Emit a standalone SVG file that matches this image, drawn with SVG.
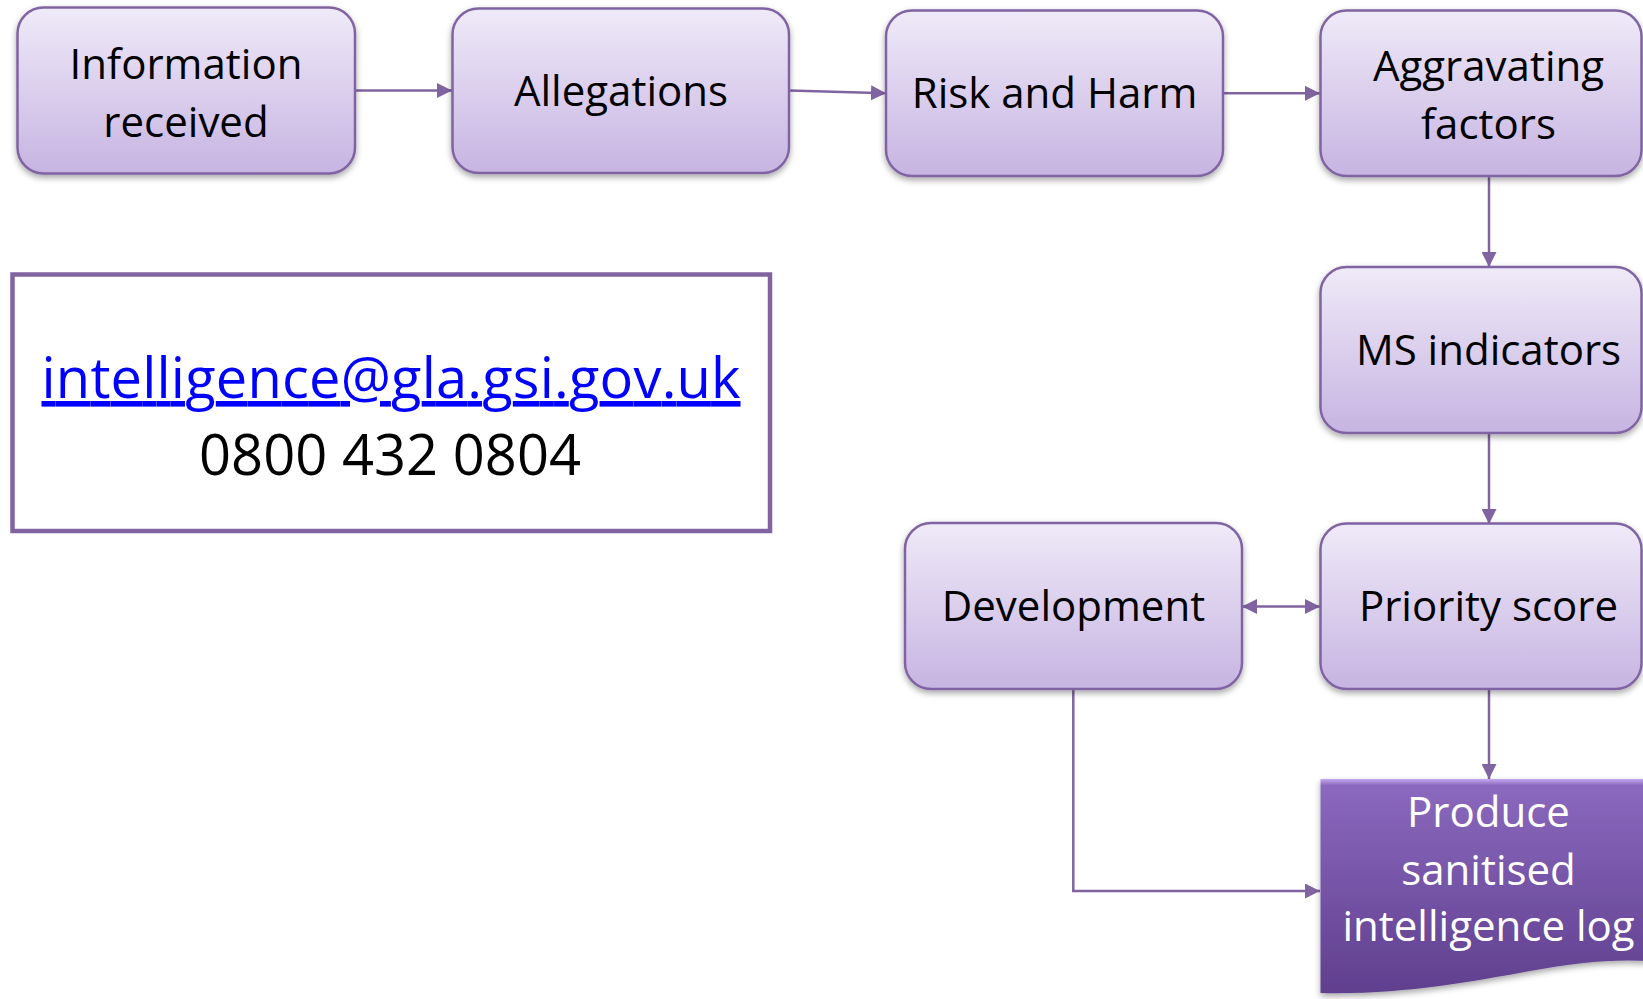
<svg xmlns="http://www.w3.org/2000/svg" width="1643" height="999" viewBox="0 0 1643 999">
<style>
.box{fill:url(#lg);stroke:#8064A2;stroke-width:2.5;filter:url(#sh)}
.t{font-family:"Open Sans","Noto Sans",sans-serif;font-size:42px;fill:#000;text-anchor:middle}
.tw{font-family:"Open Sans","Noto Sans",sans-serif;font-size:42px;fill:#fff;text-anchor:middle}
.c{fill:none;stroke:#8064A2;stroke-width:2.5}
</style>
<defs>
<linearGradient id="lg" x1="0" y1="0" x2="0" y2="1">
<stop offset="0" stop-color="#EFEAF8"/>
<stop offset="1" stop-color="#C7B4E2"/>
</linearGradient>
<linearGradient id="dg" x1="0" y1="0" x2="0" y2="1">
<stop offset="0" stop-color="#C4A8EE"/>
<stop offset="0.03" stop-color="#8A69BE"/>
<stop offset="1" stop-color="#5F3F8E"/>
</linearGradient>
<filter id="sh" x="-10%" y="-10%" width="120%" height="130%">
<feDropShadow dx="0" dy="3" stdDeviation="3" flood-color="#000" flood-opacity="0.35"/>
</filter>
<marker id="ah" viewBox="0 0 10 10" refX="10" refY="5" markerWidth="6" markerHeight="6" markerUnits="strokeWidth" orient="auto-start-reverse">
<path d="M0,0 L10,5 L0,10 Z" fill="#8064A2"/>
</marker>
</defs>
<g id="connectors">
<line class="c" x1="355" y1="90.5" x2="452" y2="90.5" marker-end="url(#ah)"/>
<line class="c" x1="789" y1="90.5" x2="886" y2="93.3" marker-end="url(#ah)"/>
<line class="c" x1="1223" y1="93.3" x2="1320" y2="93.3" marker-end="url(#ah)"/>
<line class="c" x1="1489" y1="176" x2="1489" y2="267" marker-end="url(#ah)"/>
<line class="c" x1="1489" y1="433" x2="1489" y2="524" marker-end="url(#ah)"/>
<line class="c" x1="1242" y1="606.5" x2="1320" y2="606.5" marker-start="url(#ah)" marker-end="url(#ah)"/>
<line class="c" x1="1489" y1="689" x2="1489" y2="779" marker-end="url(#ah)"/>
<polyline class="c" points="1073.3,689 1073.3,891 1320,891" marker-end="url(#ah)"/>
</g>
<g id="info">
<rect class="box" x="17.5" y="7.5" width="337.5" height="166" rx="26"/>
<text class="t" x="186" y="79">Information</text>
<text class="t" x="186" y="137">received</text>
</g>
<g id="allegations">
<rect class="box" x="452.5" y="8.5" width="336.5" height="164.5" rx="26"/>
<text class="t" x="621" y="106">Allegations</text>
</g>
<g id="risk">
<rect class="box" x="886" y="10.5" width="337" height="165.5" rx="26"/>
<text class="t" x="1054.5" y="108">Risk and Harm</text>
</g>
<g id="aggravating">
<rect class="box" x="1320.5" y="10.5" width="321" height="165.5" rx="26"/>
<text class="t" x="1488.5" y="81">Aggravating</text>
<text class="t" x="1488.5" y="139">factors</text>
</g>
<g id="ms">
<rect class="box" x="1320.5" y="267" width="321" height="166" rx="26"/>
<text class="t" x="1488.5" y="365">MS indicators</text>
</g>
<g id="priority">
<rect class="box" x="1320.5" y="523.5" width="321" height="165.5" rx="26"/>
<text class="t" x="1488.5" y="621">Priority score</text>
</g>
<g id="development">
<rect class="box" x="905" y="523" width="337" height="166" rx="26"/>
<text class="t" x="1073.5" y="621">Development</text>
</g>
<g id="produce">
<path d="M1320.5,779 H1660 V962 C1620,958 1580,962 1530,971 C1470,982 1400,995 1320.5,993 Z" fill="url(#dg)" filter="url(#sh)"/>
<text class="tw" x="1488.5" y="827">Produce</text>
<text class="tw" x="1488.5" y="885">sanitised</text>
<text class="tw" x="1488.5" y="941">intelligence log</text>
</g>
<g id="contact">
<rect x="12.5" y="274.5" width="757.5" height="256.5" fill="#fff" stroke="#8064A2" stroke-width="4.5"/>
<text x="391" y="398" font-family="'Open Sans','Noto Sans',sans-serif" font-size="56" fill="#0000FF" text-anchor="middle" text-decoration="underline" textLength="699">intelligence@gla.gsi.gov.uk</text>
<text x="390" y="475" font-family="'Open Sans','Noto Sans',sans-serif" font-size="56" fill="#000" text-anchor="middle" textLength="382">0800 432 0804</text>
</g>
</svg>
